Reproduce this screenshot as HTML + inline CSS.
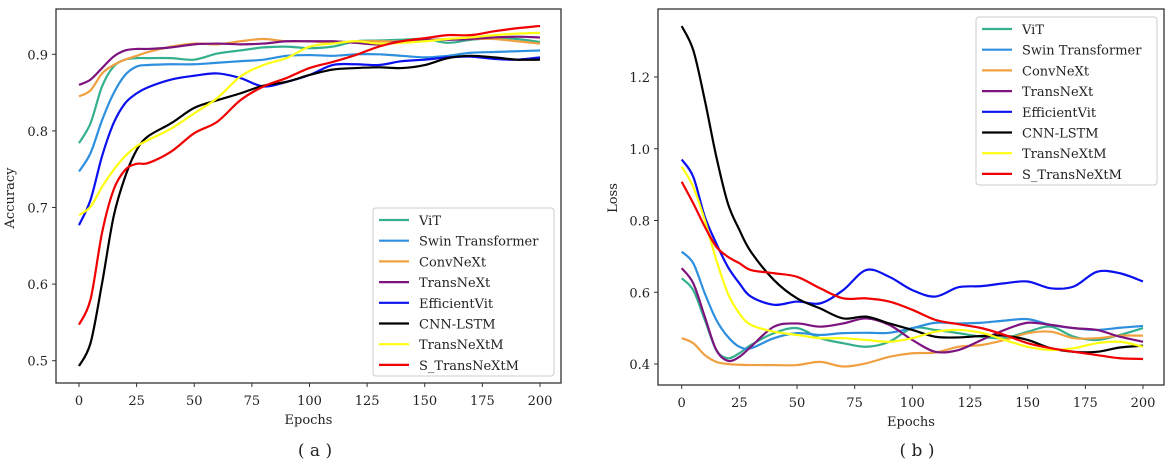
<!DOCTYPE html>
<html><head><meta charset="utf-8"><style>
body{margin:0;background:#fff;}
svg{display:block;}
text{font-family:"DejaVu Serif","Liberation Serif",serif;fill:#222;}
</style></head><body>
<svg id="fig" width="1170" height="466" viewBox="0 0 1170 466"></svg>
<script>
const epochs=[0,5,10,15,20,25,30,40,50,60,70,80,90,100,110,120,130,140,150,160,170,180,190,200];
const names=["ViT","Swin Transformer","ConvNeXt","TransNeXt","EfficientVit","CNN-LSTM","TransNeXtM","S_TransNeXtM"];
const colors=["#35b08f","#2e8fde","#f0a040","#7d137f","#0a10ee","#000000","#ffff10","#f00000"];
const accViT=[0.784,0.81,0.858,0.884,0.893,0.895,0.895,0.895,0.893,0.901,0.905,0.909,0.91,0.908,0.91,0.917,0.918,0.919,0.92,0.915,0.919,0.921,0.92,0.916];
const accSwin=[0.747,0.771,0.814,0.849,0.873,0.884,0.886,0.887,0.887,0.889,0.891,0.893,0.898,0.899,0.898,0.9,0.9,0.898,0.896,0.898,0.902,0.903,0.904,0.905];
const accConv=[0.845,0.853,0.875,0.886,0.893,0.898,0.903,0.91,0.914,0.913,0.917,0.92,0.917,0.917,0.915,0.917,0.917,0.917,0.918,0.92,0.92,0.92,0.917,0.914];
const accTrans=[0.86,0.867,0.882,0.897,0.905,0.907,0.907,0.909,0.913,0.914,0.913,0.914,0.917,0.917,0.917,0.915,0.913,0.917,0.919,0.919,0.92,0.922,0.923,0.922];
const accEff=[0.677,0.71,0.767,0.81,0.836,0.849,0.857,0.867,0.872,0.875,0.869,0.858,0.864,0.873,0.886,0.887,0.886,0.891,0.893,0.896,0.897,0.894,0.893,0.896];
const accCnn=[0.493,0.523,0.601,0.688,0.74,0.775,0.793,0.81,0.83,0.84,0.849,0.859,0.864,0.873,0.88,0.882,0.883,0.882,0.886,0.895,0.898,0.896,0.893,0.893];
const accTM=[0.69,0.701,0.727,0.749,0.767,0.78,0.788,0.803,0.823,0.843,0.871,0.886,0.895,0.91,0.914,0.917,0.914,0.915,0.917,0.92,0.922,0.925,0.927,0.928];
const accSTM=[0.547,0.58,0.667,0.723,0.749,0.757,0.758,0.773,0.797,0.812,0.84,0.858,0.869,0.882,0.89,0.899,0.91,0.917,0.921,0.925,0.925,0.93,0.934,0.937];
const lossViT=[0.639,0.606,0.523,0.439,0.416,0.43,0.453,0.486,0.5,0.472,0.458,0.448,0.462,0.5,0.495,0.486,0.476,0.472,0.49,0.504,0.476,0.467,0.481,0.5];
const lossSwin=[0.713,0.681,0.597,0.523,0.476,0.448,0.444,0.472,0.486,0.481,0.486,0.487,0.487,0.5,0.515,0.513,0.515,0.521,0.525,0.509,0.5,0.495,0.501,0.506];
const lossConv=[0.472,0.458,0.425,0.406,0.4,0.398,0.397,0.397,0.397,0.406,0.393,0.402,0.42,0.43,0.432,0.448,0.453,0.467,0.486,0.49,0.472,0.472,0.479,0.479];
const lossTrans=[0.667,0.625,0.532,0.439,0.409,0.42,0.448,0.504,0.513,0.504,0.513,0.527,0.509,0.467,0.434,0.439,0.467,0.495,0.515,0.509,0.5,0.495,0.476,0.462];
const lossEff=[0.97,0.922,0.811,0.736,0.671,0.625,0.588,0.565,0.574,0.569,0.606,0.662,0.643,0.606,0.588,0.614,0.617,0.625,0.63,0.611,0.616,0.657,0.653,0.63];
const lossCnn=[1.342,1.275,1.136,0.978,0.848,0.774,0.713,0.634,0.583,0.555,0.527,0.532,0.513,0.495,0.476,0.474,0.478,0.479,0.467,0.444,0.434,0.434,0.446,0.451];
const lossTM=[0.95,0.894,0.801,0.69,0.597,0.541,0.509,0.49,0.481,0.472,0.472,0.467,0.462,0.472,0.49,0.495,0.487,0.467,0.448,0.439,0.444,0.458,0.462,0.448];
const lossSTM=[0.908,0.848,0.783,0.727,0.699,0.681,0.662,0.653,0.643,0.611,0.583,0.583,0.574,0.551,0.523,0.511,0.5,0.481,0.458,0.444,0.434,0.425,0.416,0.414];
const xTicks=[0,25,50,75,100,125,150,175,200];
const accTicks=[0.5,0.6,0.7,0.8,0.9];
const lossTicks=[0.4,0.6,0.8,1.0,1.2];

const NS="http://www.w3.org/2000/svg";
const svg=document.getElementById('fig');
function mk(tag,attrs,parent,txt){const e=document.createElementNS(NS,tag);for(const k in attrs)e.setAttribute(k,attrs[k]);if(txt!==undefined)e.textContent=txt;(parent||svg).appendChild(e);return e;}
function pathD(xs,ys){let d=`M${xs[0]},${ys[0]}`;for(let i=0;i<xs.length-1;i++){const x0=xs[Math.max(i-1,0)],y0=ys[Math.max(i-1,0)],x3=xs[Math.min(i+2,xs.length-1)],y3=ys[Math.min(i+2,xs.length-1)];const c1x=xs[i]+(xs[i+1]-x0)/6,c1y=ys[i]+(ys[i+1]-y0)/6,c2x=xs[i+1]-(x3-xs[i])/6,c2y=ys[i+1]-(y3-ys[i])/6;d+=` C${c1x},${c1y} ${c2x},${c2y} ${xs[i+1]},${ys[i+1]}`;}return d;}

function panel(cfg){
  const g=mk('g',{});
  
  
  const X=e=>cfg.x0+(e/200)*(cfg.x1-cfg.x0);
  const Y=v=>cfg.yA+(v-cfg.vA)*(cfg.yB-cfg.yA)/(cfg.vB-cfg.vA);
  cfg.series.forEach((s,i)=>{
    const p=mk('path',{d:pathD(epochs.map(X),s.map(Y)),fill:'none',stroke:colors[i],'stroke-width':2.2,'stroke-linejoin':'round'},g);
    
    
  });
  const fr=mk('rect',{x:cfg.L,y:cfg.T,width:cfg.R-cfg.L,height:cfg.B-cfg.T,fill:'none',stroke:'#333','stroke-width':1.3},g);
  
  
  xTicks.forEach(t=>{
    mk('line',{x1:X(t),x2:X(t),y1:cfg.B,y2:cfg.B+4,stroke:'#333'},g);
    const tx=mk('text',{x:X(t),y:cfg.B+22,'text-anchor':'middle','font-size':13},g,String(t));
    
    
  });
  cfg.yTicks.forEach(t=>{
    mk('line',{x1:cfg.L-4,x2:cfg.L,y1:Y(t),y2:Y(t),stroke:'#333'},g);
    const tx=mk('text',{x:cfg.L-8,y:Y(t)+5,'text-anchor':'end','font-size':13},g,t.toFixed(1));
    
    
  });
  const xl=mk('text',{x:(cfg.L+cfg.R)/2,y:cfg.B+41,'text-anchor':'middle','font-size':13},g,'Epochs');
  
  
  const yl=mk('text',{x:cfg.ylx,y:198,'text-anchor':'middle','font-size':13,transform:`rotate(-90 ${cfg.ylx} 198)`},g,cfg.ylabel);
  
  
  const cap=mk('text',{x:cfg.capx,y:456,'text-anchor':'middle','font-size':17},g,cfg.cap);
  
  
  const lg=mk('g',{},g);
  
  
  mk('rect',{x:cfg.lgx,y:cfg.lgy,width:cfg.lgw,height:168,fill:'#fff','fill-opacity':0.85,stroke:'#ccc',rx:3},lg);
  names.forEach((n,i)=>{
    const yy=cfg.lgy+12+i*20.7;
    const e=mk('g',{},lg);
    
    
    mk('line',{x1:cfg.lgx+6,x2:cfg.lgx+36,y1:yy,y2:yy,stroke:colors[i],'stroke-width':2.2},e);
    mk('text',{x:cfg.lgx+46,y:yy+5,'font-size':13},e,n);
  });
}
panel({name:'accuracy-chart',x0:79,x1:540,L:56,R:561,T:9,B:383,vA:0.5,yA:360.7,vB:0.9,yB:54.3,
  series:[accViT,accSwin,accConv,accTrans,accEff,accCnn,accTM,accSTM],yTicks:accTicks,ylabel:'Accuracy',ylx:14,cap:'( a )',capx:315,lgx:373,lgy:208,lgw:181});
panel({name:'loss-chart',x0:681.7,x1:1143,L:658,R:1164,T:9,B:385,vA:0.4,yA:364,vB:1.2,yB:77,
  series:[lossViT,lossSwin,lossConv,lossTrans,lossEff,lossCnn,lossTM,lossSTM],yTicks:lossTicks,ylabel:'Loss',ylx:617,cap:'( b )',capx:917,lgx:976,lgy:17,lgw:181});
</script>
</body></html>
